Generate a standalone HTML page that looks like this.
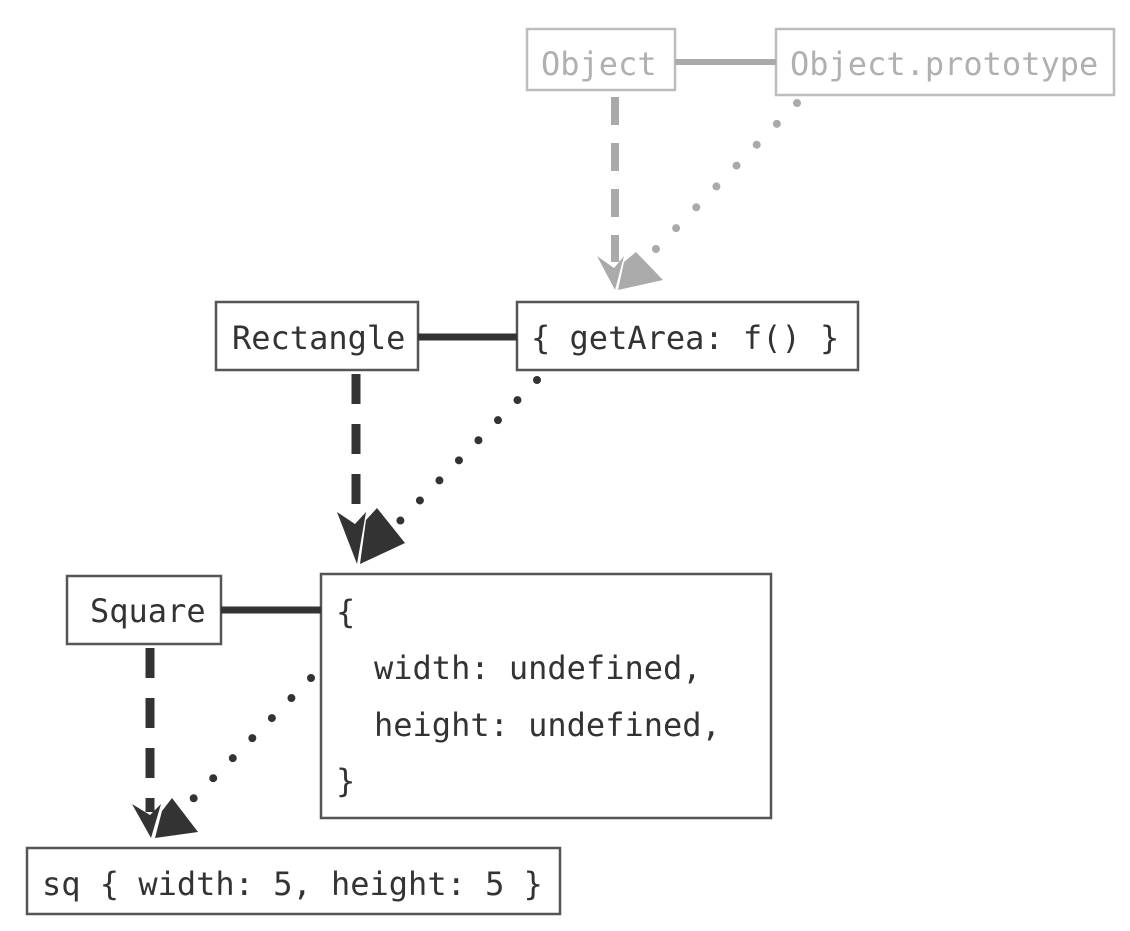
<!DOCTYPE html>
<html><head><meta charset="utf-8"><style>
html,body{margin:0;padding:0;background:#fff;}
svg text{font-family:"DejaVu Sans Mono","Liberation Mono",monospace;font-size:32px;}
</style></head><body>
<svg width="1130" height="926" viewBox="0 0 1130 926" xmlns="http://www.w3.org/2000/svg">
<rect width="1130" height="926" fill="#fff"/>
<g stroke="#bdbdbd" fill="none" stroke-width="2.5">
<rect x="527" y="29" width="148" height="61"/>
<rect x="776" y="29" width="338" height="66"/>
</g>
<line x1="675" y1="62" x2="776" y2="62" stroke="#aaa" stroke-width="6"/>
<text x="541" y="75" fill="#b0b0b0">Object</text>
<text x="790" y="75" fill="#b0b0b0">Object.prototype</text>
<line x1="615" y1="97" x2="615" y2="262" stroke="#aaa" stroke-width="8" stroke-dasharray="28,18"/>
<line x1="797" y1="103" x2="655" y2="250" stroke="#aaa" stroke-width="8" stroke-linecap="round" stroke-dasharray="0,29"/>
<polygon points="597,256 614,268 624,256 615,290" fill="#aaa"/>
<polygon points="624,262 636,252 663,280 618,290" fill="#aaa"/>

<g stroke="#555" fill="none" stroke-width="2.5">
<rect x="216" y="302" width="202" height="68"/>
<rect x="517" y="302" width="341" height="68"/>
</g>
<line x1="418" y1="337" x2="517" y2="337" stroke="#333" stroke-width="7"/>
<text x="232" y="349" fill="#333">Rectangle</text>
<text x="531" y="349" fill="#333">{ getArea: f() }</text>
<line x1="356" y1="374" x2="356" y2="540" stroke="#333" stroke-width="9" stroke-dasharray="30,20"/>
<line x1="537" y1="380" x2="399" y2="522" stroke="#333" stroke-width="8" stroke-linecap="round" stroke-dasharray="0,28"/>
<polygon points="337,512 355,524 366,512 357,564" fill="#333"/>
<polygon points="366,520 377,508 405,543 360,564" fill="#333"/>

<g stroke="#555" fill="none" stroke-width="2.5">
<rect x="67" y="576" width="154" height="68"/>
<rect x="321" y="574" width="450" height="244"/>
<rect x="27" y="848" width="533" height="66"/>
</g>
<line x1="221" y1="610" x2="321" y2="610" stroke="#333" stroke-width="7"/>
<text x="90" y="622" fill="#333">Square</text>
<text x="336" y="623" fill="#333">{</text>
<text x="374" y="679" fill="#333">width: undefined,</text>
<text x="374" y="736" fill="#333">height: undefined,</text>
<text x="336" y="792" fill="#333">}</text>
<text x="42" y="895" fill="#333">sq { width: 5, height: 5 }</text>
<line x1="150" y1="648" x2="150" y2="812" stroke="#333" stroke-width="9" stroke-dasharray="30,20"/>
<line x1="311" y1="678" x2="190" y2="802" stroke="#333" stroke-width="8" stroke-linecap="round" stroke-dasharray="0,28"/>
<polygon points="132,804 150,815 161,804 151,838" fill="#333"/>
<polygon points="162,811 172,798 198,832 155,838" fill="#333"/>
</svg>
</body></html>
